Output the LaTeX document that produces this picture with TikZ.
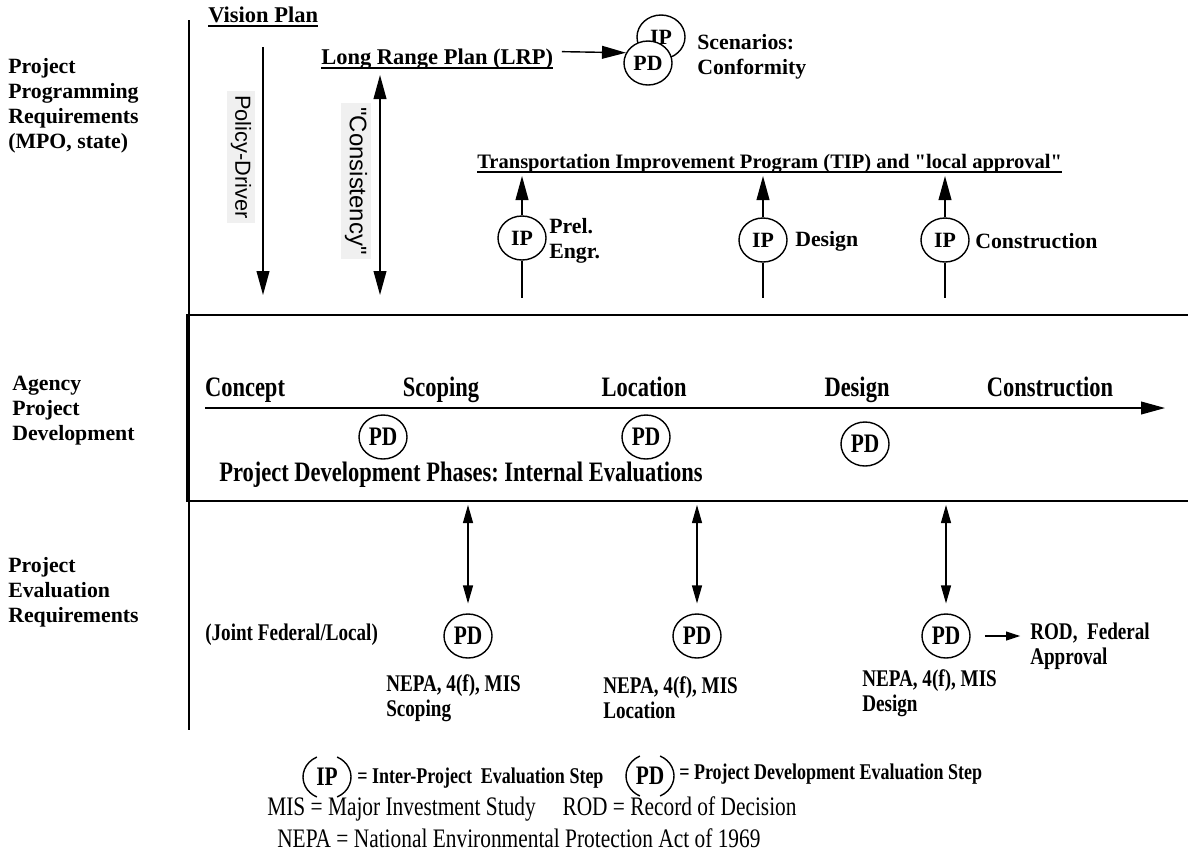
\documentclass[tikz,border=0pt]{standalone}
\usepackage{fontspec}
\setmainfont{Liberation Serif}[Ligatures=TeXOff]
\newfontfamily\tallfont{Liberation Serif}[FakeStretch=0.8, Ligatures=TeXOff]
\newfontfamily\helvfont{Liberation Sans}[Ligatures=TeXOff]
\usetikzlibrary{shapes.geometric,arrows.meta}

\tikzset{
  lane/.style={font=\bfseries\fontsize{15.5}{17.8}\selectfont, align=left, anchor=west, inner sep=0pt},
  plan/.style={font=\bfseries\fontsize{16}{17.8}\selectfont, anchor=base west, inner sep=0pt},
  phase/.style={font=\tallfont\bfseries\fontsize{20}{22}\selectfont, inner sep=0pt, anchor=base},
  note/.style={font=\tallfont\bfseries\fontsize{17}{17.8}\selectfont, align=left, anchor=west, inner sep=0pt},
  legtext/.style={font=\tallfont\bfseries\fontsize{16}{18}\selectfont, anchor=west, inner sep=0pt},
  deftext/.style={font=\tallfont\fontsize{19}{20}\selectfont, anchor=west, inner sep=0pt},
  evalstep/.style={ellipse, draw, line width=1pt, fill=white, minimum width=1.2cm, minimum height=1.1cm, inner sep=0pt, font=\tallfont\bfseries\fontsize{19}{19}\selectfont},
  ipstep/.style={evalstep, font=\bfseries\fontsize{15.5}{15.5}\selectfont},
  legstep/.style={evalstep, draw=none, fill=none},
  vtext/.style={font=\helvfont\fontsize{15.5}{15.5}\selectfont, rotate=-90, fill=gray!12, inner sep=3pt},
  bigarr/.style={line width=1pt, -{Triangle[length=0.6cm,width=0.32cm]}},
  thinarr/.style={line width=0.8pt, {Triangle[length=0.45cm,width=0.25cm]}-{Triangle[length=0.45cm,width=0.25cm]}},
  smallarr/.style={line width=1pt, -{Triangle[length=0.35cm,width=0.22cm]}},
  bar/.style={line width=0.9pt}
}

\begin{document}
\begin{tikzpicture}[x=0.025cm, y=-0.025cm]
\useasboundingbox (0,0) rectangle (1188,857);

\node[lane] (progreq) at (8,106) {Project\\Programming\\Requirements\\(MPO, state)};
\node[lane] (agency) at (12,411) {Agency\\Project\\Development};
\node[lane] (evalreq) at (8,592) {Project\\Evaluation\\Requirements};

\draw[line width=1pt] (189,20) -- (189,730);
\draw[line width=1.3pt] (1188,315) -- (187,315) -- (187,501) -- (1188,501);

\node[plan] (vision) at (208,22) {Vision Plan};
\draw[bar] ([yshift=-2.8pt]vision.base west) -- ([yshift=-2.8pt]vision.base east);
\node[plan] (lrp) at (321,64) {Long Range Plan (LRP)};
\draw[bar] ([yshift=-2.8pt]lrp.base west) -- ([yshift=-2.8pt]lrp.base east);
\node[plan, font=\bfseries\fontsize{14.6}{17.8}\selectfont] (tip) at (477,168) {Transportation Improvement Program (TIP) and "local approval"};
\draw[bar] ([yshift=-2.8pt]tip.base west) -- ([yshift=-2.8pt]tip.base east);

\node[vtext] (policy) at (241,157) {Policy-Driver};
\node[vtext, font=\helvfont\fontsize{17}{17}\selectfont] (consist) at (356,181) {"Consistency"};
\coordinate (polytop) at (263,47);
\coordinate (polybot) at (263,295);
\draw[bigarr] (polytop) -- (polybot);
\coordinate (constop) at (380,75);
\coordinate (consbot) at (380,295);
\draw[bigarr, {Triangle[length=0.6cm,width=0.32cm]}-{Triangle[length=0.6cm,width=0.32cm]}] (constop) -- (consbot);

\node[ipstep] (iptop) at (661,37) {IP};
\node[ipstep] (pdtop) at (648,63) {PD};
\draw[bigarr] ([xshift=6pt,yshift=5pt]lrp.east) -- (pdtop.155);
\node[lane] (scen) at (697,57) {Scenarios:\\Conformity};

\coordinate (tipline) at (0,176);
\coordinate (ipbase) at (0,298);
\node[ipstep] (ipprel) at (522,238) {IP};
\node[ipstep] (ipdes) at (763,240) {IP};
\node[ipstep] (ipcons) at (945,240) {IP};
\foreach \n in {ipprel,ipdes,ipcons} {
  \draw[bigarr] (\n) -- (\n |- tipline);
  \draw[line width=1pt] (\n) -- (\n |- ipbase);
}
\node[lane] (prel) at (549,241) {Prel.\\Engr.};
\node[lane] (desname) at (795,241) {Design};
\node[lane] (consname) at (975,241) {Construction};

\node[phase] (concept) at (245,396) {Concept};
\node[phase] (scoping) at (441,396) {Scoping};
\node[phase] (location) at (644,396) {Location};
\node[phase] (design) at (857,396) {Design};
\node[phase] (construction) at (1050,396) {Construction};
\coordinate (tlstart) at (205,408);
\coordinate (tlend) at (1165,408);
\draw[bigarr] (tlstart) -- (tlend);
\node[evalstep] (pdscop) at (383,437) {PD};
\node[evalstep] (pdloc) at (646,437) {PD};
\node[evalstep] (pddes) at (865,444) {PD};
\node[phase, anchor=west] (internal) at (219,475) {Project Development Phases:\ Internal Evaluations};

\coordinate (boxbot) at (0,505);
\node[evalstep] (nepascop) at (468,636) {PD};
\node[evalstep] (nepaloc) at (697,636) {PD};
\node[evalstep] (nepades) at (946,636) {PD};
\foreach \n in {nepascop,nepaloc,nepades}
  \draw[thinarr] (\n |- boxbot) -- ([yshift=7pt]\n.north);
\node[note] (joint) at (205,635) {(Joint Federal/Local)};
\node[note] (scoplbl) at (386,698) {NEPA, 4(f), MIS\\Scoping};
\node[note] (loclbl) at (603,698) {NEPA, 4(f), MIS\\Location};
\node[note] (deslbl) at (862,693) {NEPA, 4(f), MIS\\Design};
\node[note] (rod) at (1030,646) {ROD,\ \ Federal\\Approval};
\draw[smallarr] ([xshift=10pt]nepades.east) -- ([xshift=-7pt]rod.west |- nepades);

\node[legstep, font=\tallfont\bfseries\fontsize{19}{19}\selectfont] (legip) at (327,777) {IP};
\node[legstep] (legpd) at (650,776) {PD};
\foreach \n in {legip,legpd} {
  \draw[line width=1pt] (\n.center) ++(115:0.6cm and 0.55cm) arc[start angle=115, end angle=245, x radius=0.6cm, y radius=0.55cm];
  \draw[line width=1pt] (\n.center) ++(-65:0.6cm and 0.55cm) arc[start angle=-65, end angle=65, x radius=0.6cm, y radius=0.55cm];
}
\node[legtext] (ipdef) at (357,778) {= Inter-Project\ \ Evaluation Step};
\node[legtext] (pddef) at (679,774) {= Project Development Evaluation Step};
\node[deftext] (misdef) at (267,809) {MIS = Major Investment Study\quad ROD = Record of Decision};
\node[deftext] (nepadef) at (277,838) {NEPA = National Environmental Protection Act of 1969};
\end{tikzpicture}
\end{document}
